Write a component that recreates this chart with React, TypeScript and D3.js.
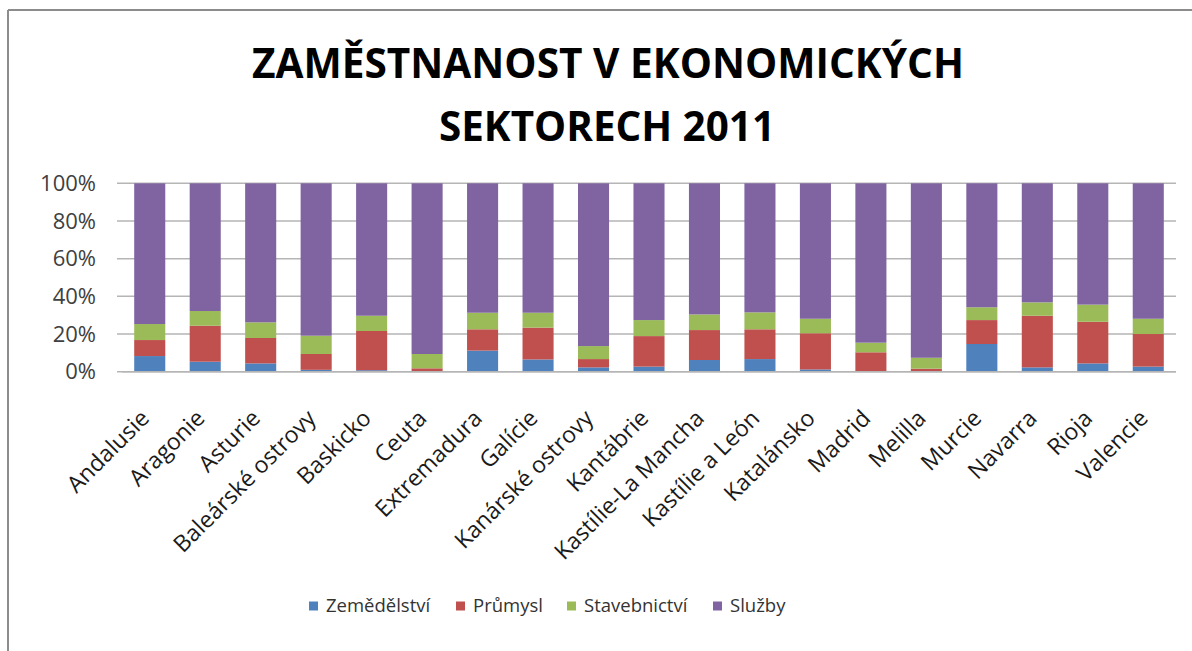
import React from "react";
import * as d3 from "d3";

const categories = [
  "Andalusie", "Aragonie", "Asturie", "Baleárské ostrovy", "Baskicko", "Ceuta",
  "Extremadura", "Galície", "Kanárské ostrovy", "Kantábrie", "Kastílie-La Mancha",
  "Kastílie a León", "Katalánsko", "Madrid", "Melilla", "Murcie", "Navarra", "Rioja", "Valencie",
];

const zemedelstvi = [8.3, 5.3, 4.4, 1.0, 0.8, 0.3, 11.2, 6.5, 2.3, 2.7, 6.2, 6.7, 1.2, 0.3, 0.3, 14.7, 2.3, 4.4, 2.7];
const prumysl = [8.5, 19.1, 13.5, 8.4, 20.8, 1.5, 11.3, 16.9, 4.4, 16.2, 15.9, 15.8, 19.2, 10.0, 1.3, 12.7, 27.4, 22.1, 17.3];
const stavebnictvi = [8.5, 7.8, 8.3, 9.7, 8.1, 7.6, 8.8, 7.9, 6.9, 8.5, 8.3, 9.0, 7.7, 5.1, 5.8, 6.8, 7.1, 9.1, 8.1];
const sluzby = [74.7, 67.8, 73.8, 80.9, 70.3, 90.6, 68.7, 68.7, 86.4, 72.6, 69.6, 68.5, 71.9, 84.6, 92.6, 65.8, 63.2, 64.4, 71.9];

const seriesNames = ["Zemědělství", "Průmysl", "Stavebnictví", "Služby"];
const seriesColors = ["#4F81BD", "#C0504D", "#9BBB59", "#8064A2"];
const yTicks = [0, 0.2, 0.4, 0.6, 0.8, 1.0];
const titleLines = ["ZAMĚSTNANOST V EKONOMICKÝCH", "SEKTORECH 2011"];

const W = 1192;
const H = 651;
const plotLeft = 122;
const plotRight = 1176;
const plotTop = 183.3;
const plotBottom = 371.7;
const legendX = [309, 456, 567, 713];

export default function App() {
  const seriesArrays = [zemedelstvi, prumysl, stavebnictvi, sluzby];
  const rows = categories.map((c, i) => {
    const r: any = { cat: c };
    seriesNames.forEach((s, k) => (r[s] = seriesArrays[k][i]));
    return r;
  });
  const stack = d3.stack<any>().keys(seriesNames).offset(d3.stackOffsetExpand);
  const stacked = stack(rows);

  const x = d3.scaleBand<string>().domain(categories).range([plotLeft, plotRight]).paddingInner(0.44).paddingOuter(0.22);
  const y = d3.scaleLinear().domain([0, 1]).range([plotBottom, plotTop]);
  const fmt = d3.format(".0%");
  const font = "'Open Sans', sans-serif";

  return (
    <svg width={W} height={H} style={{ position: "absolute", left: 0, top: 0, background: "#fff" }}>
      <rect x={0} y={0} width={W} height={H} fill="#fff" />
      <line x1={8} y1={10} x2={W} y2={10} stroke="#8c8c8c" strokeWidth={2} />
      <line x1={8} y1={10} x2={8} y2={H} stroke="#8c8c8c" strokeWidth={2} />

      <text x={608} y={78} textAnchor="middle" fontFamily={font} fontWeight={700} fontSize={42} fill="#000" textLength={712} lengthAdjust="spacingAndGlyphs">{titleLines[0]}</text>
      <text x={607} y={141} textAnchor="middle" fontFamily={font} fontWeight={700} fontSize={42} fill="#000" textLength={336} lengthAdjust="spacingAndGlyphs">{titleLines[1]}</text>

      {yTicks.map((t) => (
        <g key={t}>
          <line x1={plotLeft - 5} x2={plotRight} y1={y(t)} y2={y(t)} stroke="#b5b5b5" strokeWidth={1.5} />
          <text x={96} y={y(t)} dy="0.35em" textAnchor="end" fontFamily={font} fontSize={22} fill="#404040">{fmt(t)}</text>
        </g>
      ))}

      {stacked.map((s, k) => (
        <g key={s.key} fill={seriesColors[k]}>
          {s.map((d, i) => (
            <rect key={i} x={x(categories[i])} width={x.bandwidth()} y={y(d[1])} height={Math.max(0, y(d[0]) - y(d[1]))} />
          ))}
        </g>
      ))}
      <line x1={plotLeft} x2={plotRight} y1={plotBottom} y2={plotBottom} stroke="#b5b5b5" strokeWidth={1.5} />

      {categories.map((c) => {
        const cx = (x(c) as number) + x.bandwidth() / 2;
        return (
          <text key={c} transform={`translate(${cx + 1},${plotBottom + 48}) rotate(-45)`} textAnchor="end" fontFamily={font} fontSize={23} fill="#1a1a1a">{c}</text>
        );
      })}

      {seriesNames.map((s, k) => (
        <g key={s} transform={`translate(${legendX[k]},606)`}>
          <rect x={0} y={-4.5} width={9} height={9} fill={seriesColors[k]} />
          <text x={17} y={0} dy="0.35em" fontFamily={font} fontSize={18.5} fill="#333">{s}</text>
        </g>
      ))}
    </svg>
  );
}
